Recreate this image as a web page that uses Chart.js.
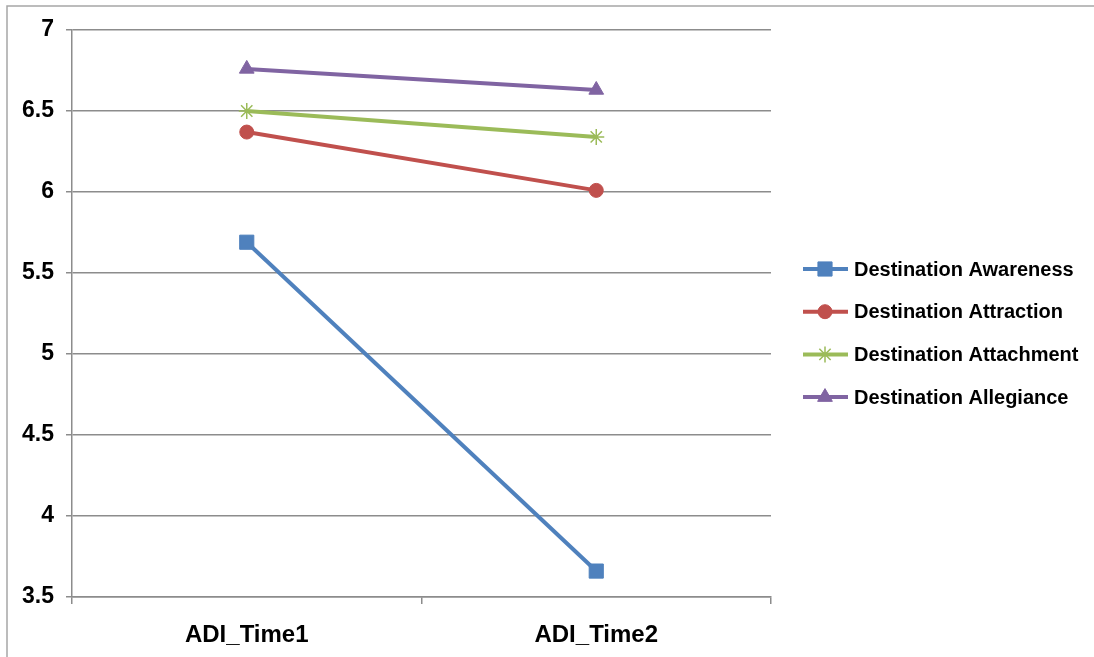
<!DOCTYPE html>
<html>
<head>
<meta charset="utf-8">
<script src="https://cdn.jsdelivr.net/npm/chart.js@4.4.0/dist/chart.umd.min.js"></script>
<style>
  html, body { margin: 0; padding: 0; background: #fff; }
  #wrap { width: 1094px; height: 657px; }
</style>
</head>
<body>
<div id="wrap"><canvas id="adiChart" width="1094" height="657"></canvas></div>
<script>
// data
const categories = ['ADI_Time1', 'ADI_Time2'];
const seriesNames = ['Destination Awareness', 'Destination Attraction', 'Destination Attachment', 'Destination Allegiance'];
const awareness = [5.69, 3.66];
const attraction = [6.37, 6.01];
const attachment = [6.50, 6.34];
const allegiance = [6.76, 6.63];
const yTicks = [3.5, 4, 4.5, 5, 5.5, 6, 6.5, 7];

const gridGray = '#8c8c8c';
const fontFam = '"Liberation Sans", Arial, sans-serif';

function serie(name, values, color, style, radius, bw) {
  return {
    label: name,
    data: values,
    borderColor: color,
    backgroundColor: color,
    borderWidth: 4,
    pointStyle: style,
    pointRadius: radius,
    pointHoverRadius: radius,
    pointBorderWidth: bw,
    pointBackgroundColor: color,
    pointBorderColor: color,
    tension: 0
  };
}

// marco gris arriba y a la izquierda
const framePlugin = {
  id: 'frame',
  beforeDraw(chart) {
    const c = chart.ctx;
    c.save();
    c.strokeStyle = '#a6a6a6';
    c.lineWidth = 1.5;
    c.beginPath();
    c.moveTo(7, 657);
    c.lineTo(7, 6);
    c.lineTo(1094, 6);
    c.stroke();
    c.restore();
  }
};

// leyenda estilo excel (linea + marcador)
const sideLegend = {
  id: 'sideLegend',
  afterDraw(chart) {
    const c = chart.ctx;
    chart.data.datasets.forEach((ds, i) => {
      const y = 269 + i * 42.7;
      c.save();
      c.strokeStyle = ds.borderColor;
      c.fillStyle = ds.borderColor;
      c.lineWidth = 4;
      c.beginPath();
      c.moveTo(803, y);
      c.lineTo(848, y);
      c.stroke();
      c.lineWidth = ds.pointBorderWidth;
      Chart.helpers.drawPoint(c, { pointStyle: ds.pointStyle, radius: ds.pointRadius, borderWidth: ds.pointBorderWidth, rotation: 0 }, 825, y);
      c.fillStyle = '#000';
      c.font = 'bold 20px ' + fontFam;
      c.textBaseline = 'middle';
      c.textAlign = 'left';
      c.fillText(ds.label, 854, y + 1);
      c.restore();
    });
  }
};

const ctx = document.getElementById('adiChart');

new Chart(ctx, {
  type: 'line',
  data: {
    labels: categories,
    datasets: [
      serie(seriesNames[0], awareness, '#4F81BD', 'rect', 10, 1),
      serie(seriesNames[1], attraction, '#C0504D', 'circle', 7, 1),
      serie(seriesNames[2], attachment, '#9BBB59', 'star', 8, 1.5),
      serie(seriesNames[3], allegiance, '#8064A2', 'triangle', 8.5, 1)
    ]
  },
  options: {
    responsive: false,
    animation: false,
    layout: { padding: { top: 30, left: 0, right: 323, bottom: 0 } },
    plugins: {
      legend: { display: false },
      tooltip: { enabled: false }
    },
    scales: {
      x: {
        offset: true,
        grid: { offset: true, drawOnChartArea: false, drawTicks: true, tickLength: 7, color: gridGray, lineWidth: 1.5 },
        border: { color: gridGray, width: 1.5 },
        ticks: { color: '#000', font: { family: fontFam, size: 24, weight: 'bold' }, padding: 17 },
        afterFit: s => { s.height = 60; }
      },
      y: {
        min: 3.5,
        max: 7,
        afterBuildTicks: s => { s.ticks = yTicks.map(v => ({ value: v })); },
        grid: { color: gridGray, lineWidth: 1.5, tickLength: 6 },
        border: { color: gridGray, width: 1.5 },
        ticks: {
          color: '#000',
          font: { family: fontFam, size: 23, weight: 'bold' },
          padding: 12,
          callback: v => String(v)
        },
        afterFit: s => { s.width = 72; }
      }
    }
  },
  plugins: [framePlugin, sideLegend]
});
</script>
</body>
</html>
